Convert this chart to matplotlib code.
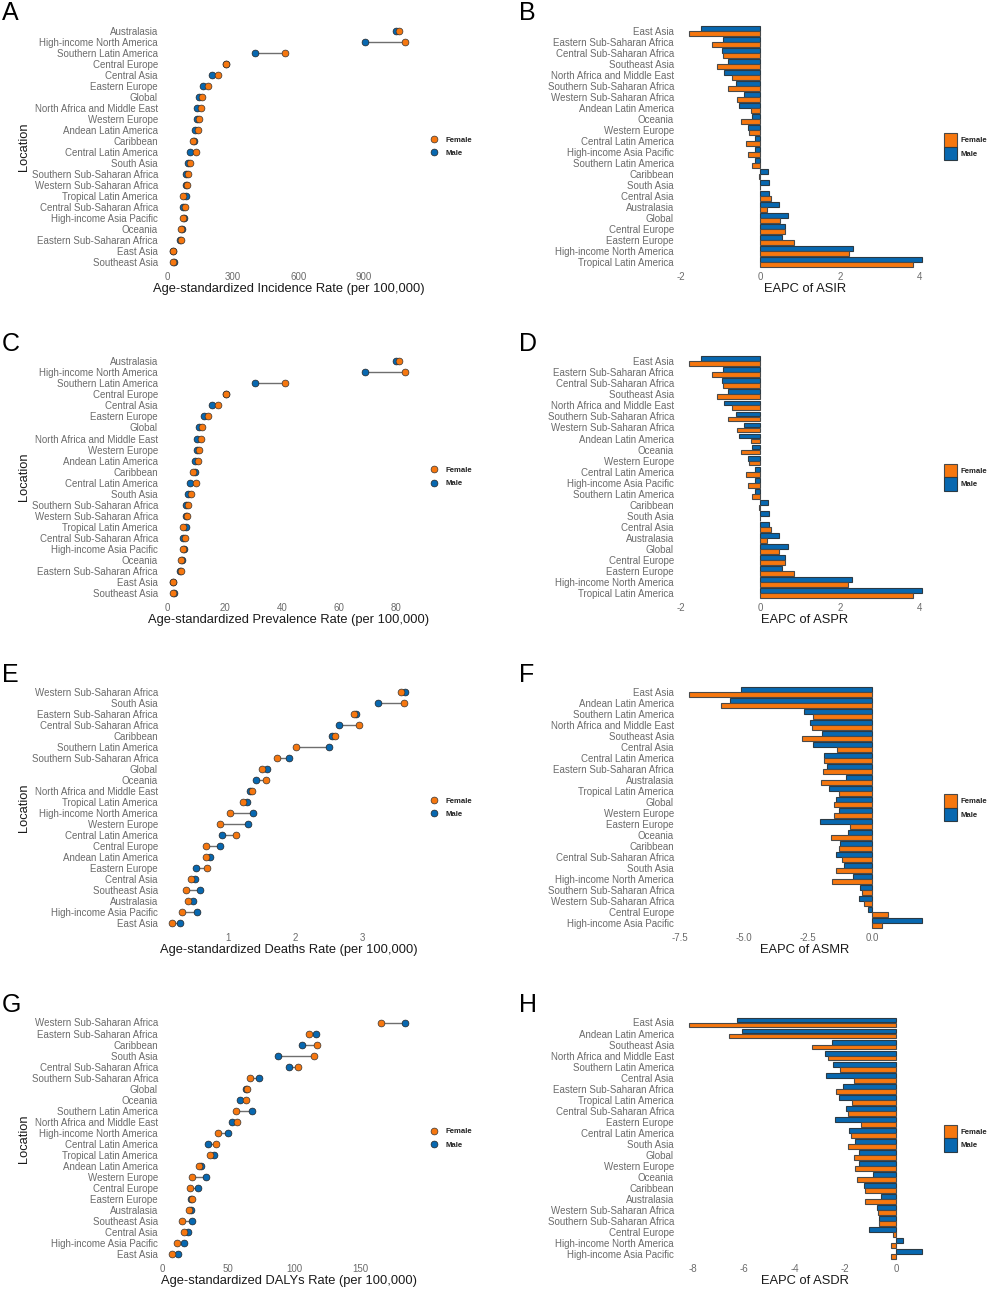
import matplotlib
matplotlib.use("Agg")
import matplotlib.pyplot as plt
from matplotlib.lines import Line2D
from matplotlib.patches import Patch

plt.rcParams['font.family'] = ['Liberation Sans', 'DejaVu Sans']
plt.rcParams['axes.unicode_minus'] = False

FIG_W, FIG_H = 989, 1290
FEMALE = '#F6770F'
MALE = '#0868B0'
GRAY = '#6B6B6B'

# panel A / C share the same row order
asir_locs = ["Australasia", "High-income North America", "Southern Latin America", "Central Europe",
             "Central Asia", "Eastern Europe", "Global", "North Africa and Middle East", "Western Europe",
             "Andean Latin America", "Caribbean", "Central Latin America", "South Asia",
             "Southern Sub-Saharan Africa", "Western Sub-Saharan Africa", "Tropical Latin America",
             "Central Sub-Saharan Africa", "High-income Asia Pacific", "Oceania", "Eastern Sub-Saharan Africa",
             "East Asia", "Southeast Asia"]
asir_male = [1048, 906, 403, 266, 205, 164, 144, 136, 135, 127, 122, 101, 92, 84, 84, 83, 69, 75, 66, 55, 26, 28]
asir_female = [1061, 1090, 539, 266, 230, 184, 159, 155, 145, 141, 116, 132, 104, 95, 89, 69, 81, 70, 63, 61, 26, 23]
aspr_male = [79.9, 69, 30.7, 20.3, 15.6, 12.6, 11, 10.4, 10.3, 9.7, 9.4, 7.7, 7, 6.4, 6.4, 6.4, 5.2, 5.7, 5, 4.2, 2, 2.1]
aspr_female = [80.9, 83, 41, 20.3, 17.5, 14, 12.1, 11.8, 11.1, 10.7, 9, 10, 8, 7.2, 6.8, 5.2, 6.2, 5.4, 4.8, 4.7, 2, 1.8]

asmr_locs = ["Western Sub-Saharan Africa", "South Asia", "Eastern Sub-Saharan Africa", "Central Sub-Saharan Africa",
             "Caribbean", "Southern Latin America", "Southern Sub-Saharan Africa", "Global", "Oceania",
             "North Africa and Middle East", "Tropical Latin America", "High-income North America", "Western Europe",
             "Central Latin America", "Central Europe", "Andean Latin America", "Eastern Europe", "Central Asia",
             "Southeast Asia", "Australasia", "High-income Asia Pacific", "East Asia"]
asmr_male = [3.64, 3.23, 2.91, 2.65, 2.55, 2.50, 1.91, 1.58, 1.42, 1.33, 1.29, 1.38, 1.30, 0.92, 0.88, 0.74, 0.53, 0.51, 0.59, 0.48, 0.55, 0.30]
asmr_female = [3.57, 3.62, 2.88, 2.95, 2.60, 2.01, 1.73, 1.51, 1.57, 1.36, 1.23, 1.03, 0.89, 1.12, 0.68, 0.68, 0.70, 0.46, 0.38, 0.41, 0.32, 0.18]

asdr_locs = ["Western Sub-Saharan Africa", "Eastern Sub-Saharan Africa", "Caribbean", "South Asia",
             "Central Sub-Saharan Africa", "Southern Sub-Saharan Africa", "Global", "Oceania",
             "Southern Latin America", "North Africa and Middle East", "High-income North America",
             "Central Latin America", "Tropical Latin America", "Andean Latin America", "Western Europe",
             "Central Europe", "Eastern Europe", "Australasia", "Southeast Asia", "Central Asia",
             "High-income Asia Pacific", "East Asia"]
asdr_male = [184, 117, 106, 88, 96.5, 73.7, 63.4, 59, 68, 52.8, 50, 35, 39.4, 29.3, 33, 27.5, 22, 22, 22.7, 19.4, 16.7, 12]
asdr_female = [165.7, 111, 117.7, 115, 103, 67, 64.6, 64, 56, 56.8, 42.7, 41, 36.4, 28.3, 22.5, 21, 23, 20.5, 15.4, 16.7, 11, 7.8]

# EAPC panels
eapc_ir_locs = ["East Asia", "Eastern Sub-Saharan Africa", "Central Sub-Saharan Africa", "Southeast Asia",
                "North Africa and Middle East", "Southern Sub-Saharan Africa", "Western Sub-Saharan Africa",
                "Andean Latin America", "Oceania", "Western Europe", "Central Latin America",
                "High-income Asia Pacific", "Southern Latin America", "Caribbean", "South Asia", "Central Asia",
                "Australasia", "Global", "Central Europe", "Eastern Europe", "High-income North America",
                "Tropical Latin America"]
eapc_asir_male = [-1.48, -0.94, -0.96, -0.80, -0.92, -0.60, -0.41, -0.54, -0.21, -0.31, -0.13, -0.13, -0.14, 0.20, 0.23, 0.22, 0.47, 0.70, 0.61, 0.54, 2.32, 4.06]
eapc_asir_female = [-1.79, -1.22, -0.93, -1.10, -0.71, -0.81, -0.59, -0.23, -0.48, -0.28, -0.36, -0.32, -0.22, -0.03, -0.01, 0.28, 0.18, 0.49, 0.63, 0.84, 2.22, 3.83]
eapc_aspr_male = [-1.48, -0.94, -0.96, -0.80, -0.92, -0.60, -0.41, -0.54, -0.21, -0.31, -0.13, -0.13, -0.14, 0.20, 0.23, 0.22, 0.46, 0.69, 0.61, 0.54, 2.30, 4.06]
eapc_aspr_female = [-1.79, -1.22, -0.93, -1.10, -0.71, -0.81, -0.59, -0.23, -0.48, -0.28, -0.36, -0.32, -0.22, -0.03, -0.01, 0.28, 0.18, 0.48, 0.62, 0.84, 2.20, 3.83]

eapc_asmr_locs = ["East Asia", "Andean Latin America", "Southern Latin America", "North Africa and Middle East",
                  "Southeast Asia", "Central Asia", "Central Latin America", "Eastern Sub-Saharan Africa",
                  "Australasia", "Tropical Latin America", "Global", "Western Europe", "Eastern Europe", "Oceania",
                  "Caribbean", "Central Sub-Saharan Africa", "South Asia", "High-income North America",
                  "Southern Sub-Saharan Africa", "Western Sub-Saharan Africa", "Central Europe",
                  "High-income Asia Pacific"]
eapc_asmr_male = [-5.11, -5.52, -2.66, -2.40, -1.96, -2.30, -1.86, -1.75, -1.01, -1.69, -1.39, -1.27, -2.04, -0.94, -1.25, -1.40, -1.08, -0.75, -0.45, -0.51, -0.14, 1.94]
eapc_asmr_female = [-7.14, -5.90, -2.31, -2.33, -2.72, -1.36, -1.86, -1.90, -1.99, -1.27, -1.48, -1.49, -0.84, -1.60, -1.27, -1.18, -1.39, -1.55, -0.38, -0.31, 0.64, 0.38]

eapc_asdr_locs = ["East Asia", "Andean Latin America", "Southeast Asia", "North Africa and Middle East",
                  "Southern Latin America", "Central Asia", "Eastern Sub-Saharan Africa", "Tropical Latin America",
                  "Central Sub-Saharan Africa", "Eastern Europe", "Central Latin America", "South Asia", "Global",
                  "Western Europe", "Oceania", "Caribbean", "Australasia", "Western Sub-Saharan Africa",
                  "Southern Sub-Saharan Africa", "Central Europe", "High-income North America",
                  "High-income Asia Pacific"]
eapc_asdr_male = [-6.28, -6.08, -2.53, -2.79, -2.50, -2.75, -2.10, -2.24, -1.96, -2.41, -1.86, -1.62, -1.46, -1.45, -0.92, -1.26, -0.59, -0.74, -0.67, -1.05, 0.26, 1.01]
eapc_asdr_female = [-8.17, -6.58, -3.32, -2.70, -2.22, -1.64, -2.37, -1.72, -1.91, -1.39, -1.79, -1.89, -1.64, -1.63, -1.54, -1.22, -1.21, -0.72, -0.68, -0.13, -0.18, -0.20]

row_step = 11.03
rows_top = [30.7, 361.3, 691.7, 1022.5]
letter_base = [20, 351, 682, 1012]


def make_axes(fig, left, right, first_row, zero_px, px_per_unit):
    top = first_row - 0.6 * row_step
    bottom = first_row + 21.6 * row_step
    ax = fig.add_axes([left / FIG_W, 1 - bottom / FIG_H, (right - left) / FIG_W, (bottom - top) / FIG_H])
    ax.set_xlim((left - zero_px) / px_per_unit, (right - zero_px) / px_per_unit)
    ax.set_ylim(21.6, -0.6)
    for s in ax.spines.values():
        s.set_visible(False)
    ax.tick_params(axis='both', length=0, labelsize=7.0, labelcolor=GRAY)
    ax.tick_params(axis='x', pad=2.2)
    ax.tick_params(axis='y', pad=2.2)
    return ax, bottom - top, (top + bottom) / 2


def style_text(ax, h, locs, xticks, xlabel):
    ax.set_yticks(range(len(locs)))
    ax.set_yticklabels(locs)
    ax.set_xticks(xticks)
    ax.set_xticklabels([str(t) for t in xticks])
    ax.set_xlabel(xlabel, fontsize=9.3, color='#1a1a1a', va='center')
    ax.xaxis.set_label_coords(0.5, -20.2 / h)


def dumbbell(fig, ax, h, mid, locs, male, female, xticks, xlabel):
    ys = list(range(len(locs)))
    ax.hlines(ys, male, female, color='#6e6e6e', lw=1.0, zorder=1)
    ax.scatter(male, ys, s=24, color=MALE, edgecolor='#222222', linewidth=0.5, zorder=2, clip_on=False)
    ax.scatter(female, ys, s=24, color=FEMALE, edgecolor='#333333', linewidth=0.5, zorder=3, clip_on=False)
    style_text(ax, h, locs, xticks, xlabel)
    ax.set_ylabel("Location", fontsize=9.3, color='#1a1a1a', va='center')
    ax.yaxis.set_label_coords((24 - 161) / 256, 0.5)
    handles = [Line2D([], [], ls='', marker='o', ms=4.9, mfc=FEMALE, mec='#333333', mew=0.5, label='Female'),
               Line2D([], [], ls='', marker='o', ms=4.9, mfc=MALE, mec='#222222', mew=0.5, label='Male')]
    ax.legend(handles=handles, loc='center left', bbox_to_anchor=(428.8 / FIG_W, 1 - mid / FIG_H),
              bbox_transform=fig.transFigure, frameon=False, borderpad=0, borderaxespad=0,
              prop={'size': 5.6, 'weight': 'bold'}, handlelength=1.4, handletextpad=0.75,
              labelspacing=0.75, labelcolor='#222222')


def eapc_bars(fig, ax, h, mid, locs, male, female, xticks, xlabel):
    ys = list(range(len(locs)))
    ax.barh([y - 0.225 for y in ys], male, height=0.44, color=MALE, edgecolor='#2b3a44', linewidth=0.8)
    ax.barh([y + 0.225 for y in ys], female, height=0.44, color=FEMALE, edgecolor='#4a4a4a', linewidth=0.8)
    style_text(ax, h, locs, xticks, xlabel)
    handles = [Patch(facecolor=FEMALE, edgecolor='#4a4a4a', linewidth=0.8, label='Female'),
               Patch(facecolor=MALE, edgecolor='#2b3a44', linewidth=0.8, label='Male')]
    ax.legend(handles=handles, loc='center left', bbox_to_anchor=(944 / FIG_W, 1 - mid / FIG_H),
              bbox_transform=fig.transFigure, frameon=False, borderpad=0, borderaxespad=0,
              prop={'size': 5.6, 'weight': 'bold'}, handlelength=1.67, handleheight=2.3,
              handletextpad=0.5, labelspacing=0, labelcolor='#222222')


fig = plt.figure(figsize=(FIG_W / 100, FIG_H / 100), dpi=100, facecolor='white')

# A, C, E, G
left_panels = [
    (asir_locs, asir_male, asir_female, 167.7, 0.2178, [0, 300, 600, 900], "Age-standardized Incidence Rate (per 100,000)"),
    (asir_locs, aspr_male, aspr_female, 167.7, 2.858, [0, 20, 40, 60, 80], "Age-standardized Prevalence Rate (per 100,000)"),
    (asmr_locs, asmr_male, asmr_female, 160.3, 67.33, [1, 2, 3], "Age-standardized Deaths Rate (per 100,000)"),
    (asdr_locs, asdr_male, asdr_female, 162.0, 1.32, [0, 50, 100, 150], "Age-standardized DALYs Rate (per 100,000)"),
]
# B, D, F, H
right_panels = [
    (eapc_ir_locs, eapc_asir_male, eapc_asir_female, 760.3, 39.77, [-2, 0, 2, 4], "EAPC of ASIR"),
    (eapc_ir_locs, eapc_aspr_male, eapc_aspr_female, 760.3, 39.77, [-2, 0, 2, 4], "EAPC of ASPR"),
    (eapc_asmr_locs, eapc_asmr_male, eapc_asmr_female, 872.0, 25.64, [-7.5, -5.0, -2.5, 0.0], "EAPC of ASMR"),
    (eapc_asdr_locs, eapc_asdr_male, eapc_asdr_female, 896.0, 25.33, [-8, -6, -4, -2, 0], "EAPC of ASDR"),
]

for i in range(4):
    locs, male, female, zero_px, scale, xticks, xlabel = left_panels[i]
    ax, h, mid = make_axes(fig, 161, 417, rows_top[i], zero_px, scale)
    dumbbell(fig, ax, h, mid, locs, male, female, xticks, xlabel)
    fig.text(2 / FIG_W, 1 - letter_base[i] / FIG_H, "ACEG"[i], fontsize=18, color='black', va='baseline')

    locs, male, female, zero_px, scale, xticks, xlabel = right_panels[i]
    ax, h, mid = make_axes(fig, 677, 933, rows_top[i], zero_px, scale)
    eapc_bars(fig, ax, h, mid, locs, male, female, xticks, xlabel)
    fig.text(519 / FIG_W, 1 - letter_base[i] / FIG_H, "BDFH"[i], fontsize=18, color='black', va='baseline')

fig.savefig("out.png", dpi=100)
